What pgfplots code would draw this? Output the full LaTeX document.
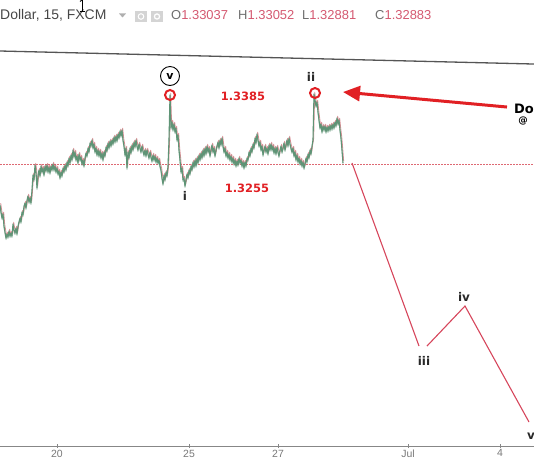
\documentclass[border=0pt]{standalone}
\usepackage{pgfplots}
\pgfplotsset{compat=1.18}
\usepackage{pgfplotstable}
\usetikzlibrary{arrows.meta}
\usepackage{fontspec}
\setmainfont{Liberation Sans}
\newfontfamily\dv{DejaVu Sans}
\definecolor{candG}{RGB}{95,148,118}
\definecolor{candR}{RGB}{200,96,104}
\definecolor{annred}{RGB}{225,32,36}
\definecolor{dotred}{RGB}{222,105,115}
\definecolor{projred}{RGB}{214,70,92}
\definecolor{hpink}{RGB}{212,88,112}
\definecolor{hgrey}{RGB}{110,110,110}
\definecolor{tickgrey}{RGB}{120,120,120}
\definecolor{axgrey}{RGB}{135,135,135}
\definecolor{iconG}{RGB}{212,212,212}
\definecolor{trendgrey}{RGB}{85,85,85}
\definecolor{lblgrey}{RGB}{40,40,40}
\definecolor{namegrey}{RGB}{70,70,70}
\definecolor{arrgrey}{RGB}{175,175,175}

\pgfplotstableread{
x p
0 1.31747
1 1.31613
2 1.31498
3 1.31575
4 1.31345
5 1.31231
6 1.31116
7 1.31192
8 1.31135
9 1.31250
10 1.31154
11 1.31212
12 1.31154
13 1.31384
14 1.31269
15 1.31212
16 1.31307
17 1.31192
18 1.31345
19 1.31422
20 1.31498
21 1.31422
22 1.31613
23 1.31556
24 1.31728
25 1.31785
26 1.31689
27 1.31842
28 1.31919
29 1.31804
30 1.31881
31 1.31785
32 1.32034
33 1.32320
34 1.32225
35 1.32511
36 1.32378
37 1.32072
38 1.32301
39 1.32416
40 1.32301
41 1.32492
42 1.32378
43 1.32454
44 1.32320
45 1.32492
46 1.32397
47 1.32511
48 1.32378
49 1.32473
50 1.32359
51 1.32492
52 1.32416
53 1.32531
54 1.32416
55 1.32492
56 1.32378
57 1.32454
58 1.32339
59 1.32397
60 1.32263
61 1.32378
62 1.32301
63 1.32454
64 1.32378
65 1.32511
66 1.32416
67 1.32569
68 1.32492
69 1.32645
70 1.32550
71 1.32703
72 1.32607
73 1.32798
74 1.32664
75 1.32760
76 1.32607
77 1.32683
78 1.32550
79 1.32722
80 1.32607
81 1.32664
82 1.32531
83 1.32607
84 1.32492
85 1.32645
86 1.32741
87 1.32683
88 1.32836
89 1.32760
90 1.32932
91 1.32875
92 1.32989
93 1.32836
94 1.32913
95 1.32760
96 1.32836
97 1.32703
98 1.32798
99 1.32683
100 1.32779
101 1.32645
102 1.32741
103 1.32607
104 1.32760
105 1.32683
106 1.32856
107 1.32779
108 1.32932
109 1.32836
110 1.32970
111 1.32875
112 1.32989
113 1.32913
114 1.33047
115 1.32951
116 1.33066
117 1.32970
118 1.33104
119 1.33028
120 1.33162
121 1.33066
122 1.33181
123 1.32989
124 1.32875
125 1.32703
126 1.32836
127 1.32454
128 1.32760
129 1.32645
130 1.32836
131 1.32741
132 1.32894
133 1.32798
134 1.32951
135 1.32856
136 1.32989
137 1.32875
138 1.32798
139 1.32913
140 1.32836
141 1.32760
142 1.32875
143 1.32779
144 1.32703
145 1.32798
146 1.32683
147 1.32798
148 1.32722
149 1.32645
150 1.32760
151 1.32664
152 1.32588
153 1.32703
154 1.32607
155 1.32683
156 1.32569
157 1.32645
158 1.32550
159 1.32607
160 1.32492
161 1.32416
162 1.32263
163 1.32148
164 1.32320
165 1.32225
166 1.32378
167 1.32301
168 1.32492
169 1.32989
170 1.33850
171 1.33219
172 1.33334
173 1.33181
174 1.33295
175 1.33143
176 1.33219
177 1.32989
178 1.33085
179 1.32798
180 1.32607
181 1.32378
182 1.32454
183 1.32225
184 1.32263
185 1.32110
186 1.32225
187 1.32339
188 1.32263
189 1.32416
190 1.32339
191 1.32492
192 1.32416
193 1.32569
194 1.32473
195 1.32607
196 1.32492
197 1.32645
198 1.32550
199 1.32703
200 1.32607
201 1.32741
202 1.32645
203 1.32798
204 1.32683
205 1.32836
206 1.32722
207 1.32875
208 1.32760
209 1.32836
210 1.32683
211 1.32798
212 1.32894
213 1.32760
214 1.32836
215 1.32683
216 1.32798
217 1.32875
218 1.32951
219 1.32836
220 1.32989
221 1.32894
222 1.33028
223 1.32875
224 1.32760
225 1.32836
226 1.32683
227 1.32760
228 1.32645
229 1.32722
230 1.32607
231 1.32683
232 1.32569
233 1.32645
234 1.32531
235 1.32607
236 1.32492
237 1.32588
238 1.32511
239 1.32645
240 1.32550
241 1.32607
242 1.32492
243 1.32569
244 1.32454
245 1.32569
246 1.32492
247 1.32645
248 1.32607
249 1.32760
250 1.32683
251 1.32836
252 1.32760
253 1.32913
254 1.32836
255 1.33028
256 1.32932
257 1.33104
258 1.32989
259 1.32875
260 1.32951
261 1.32798
262 1.32875
263 1.32703
264 1.32798
265 1.32875
266 1.32760
267 1.32836
268 1.32722
269 1.32894
270 1.32798
271 1.32913
272 1.32798
273 1.32875
274 1.32741
275 1.32836
276 1.32722
277 1.32856
278 1.32760
279 1.32683
280 1.32798
281 1.32875
282 1.32760
283 1.32836
284 1.32932
285 1.32798
286 1.32894
287 1.32989
288 1.32875
289 1.33028
290 1.32913
291 1.32836
292 1.32760
293 1.32836
294 1.32683
295 1.32760
296 1.32607
297 1.32703
298 1.32569
299 1.32645
300 1.32531
301 1.32607
302 1.32492
303 1.32569
304 1.32454
305 1.32531
306 1.32645
307 1.32569
308 1.32722
309 1.32645
310 1.32798
311 1.32722
312 1.32875
313 1.32989
314 1.33869
315 1.33754
316 1.33639
317 1.33716
318 1.33525
319 1.33372
320 1.33219
321 1.33295
322 1.33143
323 1.33257
324 1.33181
325 1.33257
326 1.33143
327 1.33238
328 1.33162
329 1.33257
330 1.33181
331 1.33276
332 1.33200
333 1.33295
334 1.33219
335 1.33334
336 1.33257
337 1.33410
338 1.33295
339 1.33372
340 1.33181
341 1.33028
342 1.32798
343 1.32550
}\price

\begin{document}
\begin{tikzpicture}
\begin{axis}[
  width=534bp, height=446bp, scale only axis,
  xmin=0, xmax=534, ymin=1.271397, ymax=1.356662,
  axis x line*=bottom, axis y line=none,
  x axis line style={draw=axgrey, line width=1bp},
  xtick={57,189,278,408,500}, xticklabels={20,25,27,Jul,4},
  major tick length=4bp, tick align=center,
  x tick style={draw=axgrey, line width=0.8bp},
  xticklabel style={font=\fontsize{10.5}{11}\selectfont, text=tickgrey, inner sep=1.5bp},
  /pgf/number format/assume math mode=true,
  ytick=\empty,
  clip=false,
]
% top trend line
\addplot[draw=trendgrey, line width=1.3bp] coordinates {(0,1.34691) (534,1.34442)};
% dotted level line
\addplot[color=dotred, solid, line width=1bp, dash pattern=on 1.6bp off 1.4bp] coordinates {(0,1.3253) (534,1.3253)};
% price path (candles drawn as a fuzzy band)
\addplot[draw=candG, line width=0.7bp, opacity=0.6, yshift=-1.8bp, line join=round] table[x=x,y=p] {\price};
\addplot[draw=candR, line width=0.8bp, opacity=0.7, xshift=0.7bp, yshift=1.8bp, line join=round] table[x=x,y=p] {\price};
\addplot[draw=candG, line width=1.1bp, line join=round] table[x=x,y=p] {\price};
% projection
\addplot[draw=projred, line width=1.1bp] coordinates {(352,1.32550) (419,1.29051)};
\addplot[draw=projred, line width=1.1bp] coordinates {(427,1.29051) (465,1.29816) (529,1.27598)};
% red circles at highs
\addplot[only marks, mark=o, mark size=5bp, mark options={draw=annred, line width=2bp}] coordinates {(170,1.3385) (315,1.33888)};
% arrow
\draw[-{Triangle[length=17bp,width=15bp]}, line width=3bp, annred] (axis cs:507,1.33620) -- (axis cs:343,1.33907);
% labels
\node[font=\dv\bfseries\fontsize{11.5}{12}\selectfont, text=annred] at (axis cs:243,1.33831) {1.3385};
\node[font=\dv\bfseries\fontsize{11.5}{12}\selectfont, text=annred] at (axis cs:247,1.32072) {1.3255};
\node[font=\dv\bfseries\fontsize{12}{12}\selectfont, text=lblgrey] at (axis cs:185,1.31919) {i};
\node[font=\dv\bfseries\fontsize{12}{12}\selectfont, text=lblgrey] at (axis cs:311,1.34194) {ii};
\node[font=\dv\bfseries\fontsize{12}{12}\selectfont, text=lblgrey] at (axis cs:424,1.28764) {iii};
\node[font=\dv\bfseries\fontsize{12}{12}\selectfont, text=lblgrey] at (axis cs:464,1.29988) {iv};
\node[font=\dv\bfseries\fontsize{12}{12}\selectfont, text=lblgrey] at (axis cs:531,1.27330) {v};
\node[circle, draw=black, line width=0.9bp, minimum size=19bp, inner sep=0pt, font=\dv\bfseries\fontsize{11}{11}\selectfont] at (axis cs:170,1.34213) {v};
\node[anchor=west, inner sep=0pt, font=\dv\bfseries\fontsize{13}{13}\selectfont] at (axis cs:514,1.33582) {Do};
\node[inner sep=0pt, font=\dv\bfseries\fontsize{9.5}{10}\selectfont] at (axis cs:523,1.33353) {@};
\end{axis}
% header (pixel y -> 446-y bp)
\node[anchor=west, inner sep=0pt, font=\fontsize{14}{14}\selectfont, text=namegrey] at (0bp,431bp) {Dollar, 15, FXCM};
\fill[arrgrey] (119bp,432.5bp) -- (126bp,432.5bp) -- (122.5bp,428.5bp) -- cycle;
\fill[iconG] (135bp,424bp) rectangle (147bp,435bp);
\fill[iconG] (151bp,424bp) rectangle (163bp,435bp);
\draw[white, line width=1bp] (141bp,429.5bp) circle (2.8bp);
\draw[white, line width=1.2bp] (157bp,429.5bp) circle (2.6bp);
\node[anchor=west, inner sep=0pt, font=\fontsize{13}{13}\selectfont] at (171bp,431bp) {\textcolor{hgrey}{O}\textcolor{hpink}{1.33037}};
\node[anchor=west, inner sep=0pt, font=\fontsize{13}{13}\selectfont] at (238bp,431bp) {\textcolor{hgrey}{H}\textcolor{hpink}{1.33052}};
\node[anchor=west, inner sep=0pt, font=\fontsize{13}{13}\selectfont] at (302bp,431bp) {\textcolor{hgrey}{L}\textcolor{hpink}{1.32881}};
\node[anchor=west, inner sep=0pt, font=\fontsize{13}{13}\selectfont] at (375bp,431bp) {\textcolor{hgrey}{C}\textcolor{hpink}{1.32883}};
% text cursor
\draw[black, line width=0.9bp] (82bp,446bp) -- (82bp,435bp);
\draw[black, line width=0.9bp] (79.5bp,435bp) -- (84.5bp,435bp);
\draw[black, line width=0.9bp] (80bp,444.5bp) -- (82bp,446bp);
\pgfresetboundingbox
\useasboundingbox (0bp,-16bp) rectangle (534bp,446bp);
\end{tikzpicture}
\end{document}
